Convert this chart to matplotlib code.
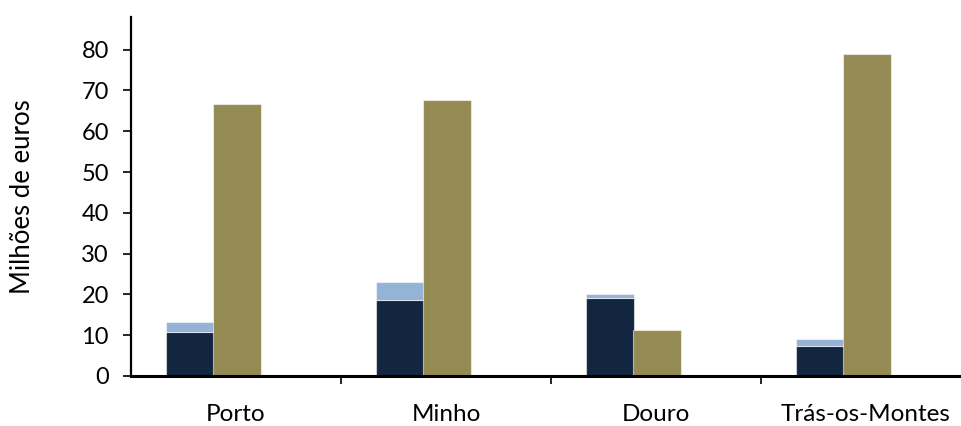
import numpy as np
import matplotlib.pyplot as plt

plt.rcParams['font.family'] = ['Lato', 'DejaVu Sans']

regions = ["Porto", "Minho", "Douro", "Trás-os-Montes"]
base_vals = [10.8, 18.6, 19.2, 7.4]      # navy part of the stacked bar
extra_vals = [2.4, 4.4, 0.9, 1.7]        # light blue on top
olive_vals = [66.6, 67.7, 11.3, 78.9]

NAVY = "#12263F"
LIGHT = "#95B3D7"
OLIVE = "#948A54"

fig = plt.figure(figsize=(9.62, 4.26), dpi=100)
ax = fig.add_axes([131 / 962, 50 / 426, 840 / 962, 359 / 426])

x = np.arange(len(regions))
w = 0.225
edge = dict(edgecolor=(1, 1, 1, 0.55), linewidth=0.8)
ax.bar(x - 0.219, base_vals, w, color=NAVY, **edge)
ax.bar(x - 0.219, extra_vals, w, bottom=base_vals, color=LIGHT, **edge)
ax.bar(x + 0.005, olive_vals, w, color=OLIVE, **edge)

ax.set_xlim(-0.5, len(regions) - 0.5)
ax.set_ylim(0, 88)
ax.set_yticks(range(0, 81, 10))
ax.tick_params(axis='y', labelsize=17, length=6, width=1.2, pad=10, direction='out')

# category labels in the middle, ticks on the boundaries
ax.set_xticks(x)
ax.set_xticklabels(regions, fontsize=17.5)
ax.tick_params(axis='x', which='major', length=0, pad=20)
ax.set_xticks(np.arange(0.5, len(regions), 1), minor=True)
ax.tick_params(axis='x', which='minor', length=6, width=1.2, direction='out')

for side in ("top", "right"):
    ax.spines[side].set_visible(False)
ax.spines["left"].set_linewidth(1.6)
ax.spines["bottom"].set_linewidth(2.2)

ax.set_ylabel("Milhões de euros", fontsize=18.5, labelpad=33)

fig.savefig("out.png", dpi=100, facecolor="white")
